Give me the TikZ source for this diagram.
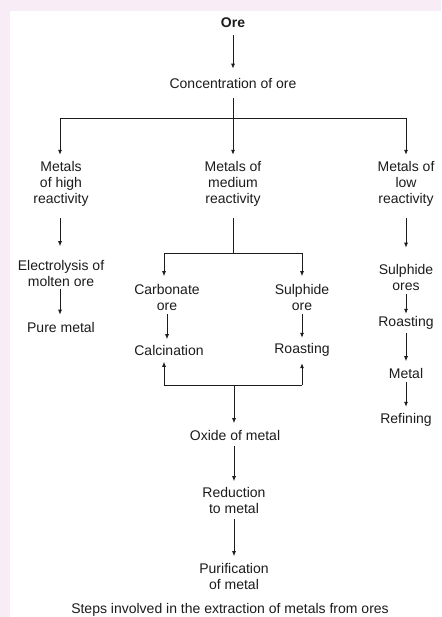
\documentclass[tikz,border=0pt]{standalone}
\usepackage{fontspec}
\setmainfont{Liberation Sans}
\usetikzlibrary{arrows.meta}
\definecolor{bgpink}{RGB}{248,236,246}
\definecolor{ink}{RGB}{28,28,28}
\begin{document}
\begin{tikzpicture}[x=1pt,y=-1pt,
  txt/.style={font=\fontsize{14}{16}\selectfont, align=center, text=ink, inner sep=0pt},
  arrp/.style={-{Latex[length=5pt,width=4pt]}, draw=ink, line width=0.8pt},
  ln/.style={draw=ink, line width=0.8pt},
  gapa/.style={shorten <=#1},
  gapb/.style={shorten >=#1}]
\fill[bgpink] (0,0) rectangle (441,617);
\fill[white] (10,11) rectangle (441,617);
\useasboundingbox (0,0) rectangle (441,617);
% nodes
\node[txt, font=\fontsize{14}{16}\selectfont\bfseries] (ore) at (233,23) {Ore};
\node[txt] (conc) at (233,83) {Concentration of ore};
\node[txt] (high) at (61,184) {Metals\\of high\\reactivity};
\node[txt] (med) at (233,184) {Metals of\\medium\\reactivity};
\node[txt] (low) at (406,184) {Metals of\\low\\reactivity};
\node[txt] (elec) at (61,273.5) {Electrolysis of\\molten ore};
\node[txt] (pure) at (61,327) {Pure metal};
\node[txt] (carb) at (167,297.5) {Carbonate\\ore};
\node[txt] (calc) at (169,350) {Calcination};
\node[txt] (sulph) at (302,297.5) {Sulphide\\ore};
\node[txt] (roast) at (302,350) {Roasting};
\node[txt] (oxide) at (235,435) {Oxide of metal};
\node[txt] (reduc) at (234,500) {Reduction\\to metal};
\node[txt] (purif) at (234,576.5) {Purification\\of metal};
\node[txt] (sulph2) at (406,277) {Sulphide\\ores};
\node[txt] (roast2) at (406,323) {Roasting};
\node[txt] (metal) at (406,373) {Metal};
\node[txt] (refin) at (406,420) {Refining};
\node[txt] (cap) at (230,610) {Steps involved in the extraction of metals from ores};
% junction coordinates
\coordinate (barc) at (233,118);
\coordinate (barl) at (60,118);
\coordinate (barr) at (406,118);
\coordinate (mbarc) at (233,253);
\coordinate (mbarl) at (164,253);
\coordinate (mbarr) at (302,253);
\coordinate (lbarc) at (234,385);
\coordinate (lbarl) at (164,385);
\coordinate (lbarr) at (302,385);
% connectors
\draw[arrp, gapa=7pt, gapb=9pt] (ore) -- (conc);
\draw[ln, gapa=10pt] (conc) -- (barc);
\draw[ln] (barl) -- (barr);
\draw[arrp, gapb=6.5pt] (barl) -- (barl |- high.north);
\draw[arrp, gapb=6.5pt] (barc) -- (med);
\draw[arrp, gapb=6.5pt] (barr) -- (low);
\draw[arrp, gapa=11.5pt, gapb=14pt] (high.south -| barl) -- (elec.north -| barl);
\draw[arrp, gapa=2pt, gapb=7pt] (elec.south -| barl) -- (pure.north -| barl);
\draw[ln, gapa=11.5pt] (med) -- (mbarc);
\draw[ln] (mbarl) -- (mbarr);
\draw[arrp, gapb=8pt] (mbarl) -- (mbarl |- carb.north);
\draw[arrp, gapb=8pt] (mbarr) -- (sulph);
\draw[arrp, gapa=3pt, gapb=5.5pt] (carb.south) -- (carb.south |- calc.north);
\draw[arrp, gapa=3pt, gapb=5.5pt] (sulph) -- (roast);
\draw[ln] (lbarl) -- (lbarr);
\draw[arrp, gapb=6.5pt] (lbarl) -- (lbarl |- calc.south);
\draw[arrp, gapb=6.5pt] (lbarr) -- (roast);
\draw[arrp, gapb=6.5pt] (lbarc) -- (lbarc |- oxide.north);
\draw[arrp, gapa=5.5pt, gapb=5.5pt] (reduc |- oxide.south) -- (reduc);
\draw[arrp, gapa=5.5pt, gapb=7pt] (reduc) -- (purif);
\draw[arrp, gapa=11.5pt, gapb=16pt] (low) -- (sulph2);
\draw[arrp, gapa=4pt, gapb=2.5pt] (sulph2) -- (roast2);
\draw[arrp, gapa=3.5pt, gapb=6.5pt] (roast2) -- (metal);
\draw[arrp, gapa=3.5pt, gapb=6.5pt] (metal) -- (refin);
\end{tikzpicture}
\end{document}
